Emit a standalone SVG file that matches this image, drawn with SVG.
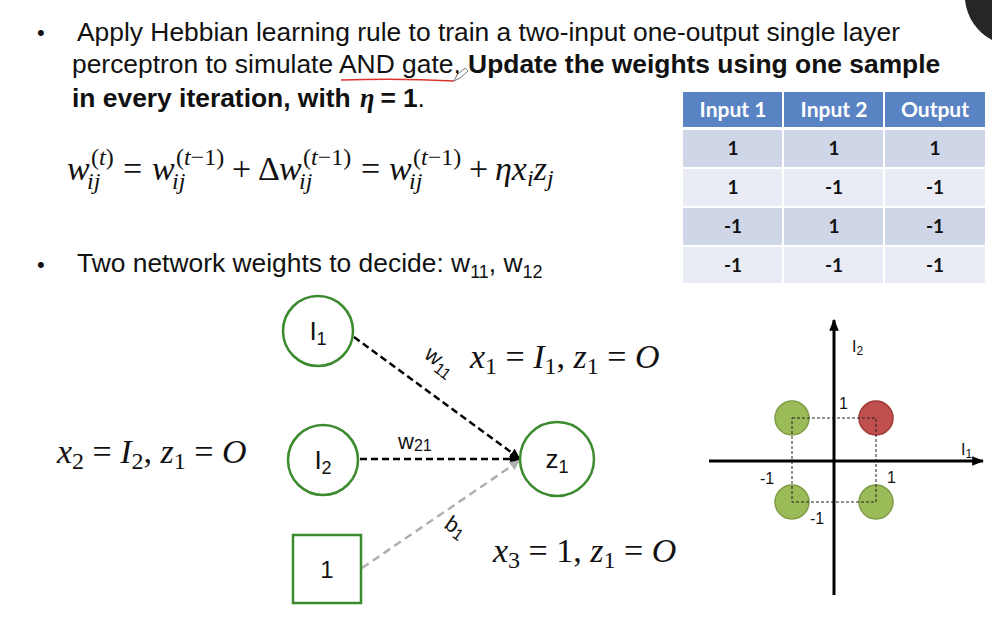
<svg xmlns="http://www.w3.org/2000/svg" width="992" height="622" viewBox="0 0 992 622">
<defs>
<marker id="ab" viewBox="0 0 10 10" refX="9" refY="5" markerWidth="4" markerHeight="4" orient="auto" markerUnits="strokeWidth"><path d="M0,0 L10,5 L0,10 z" fill="#000"/></marker>
<marker id="ag" viewBox="0 0 10 10" refX="9" refY="5" markerWidth="4" markerHeight="4" orient="auto" markerUnits="strokeWidth"><path d="M0,0 L10,5 L0,10 z" fill="#b0b0b0"/></marker>
<marker id="ax" viewBox="0 0 10 10" refX="9" refY="5" markerWidth="4" markerHeight="4" orient="auto" markerUnits="strokeWidth"><path d="M0,1 L10,5 L0,9 z" fill="#000"/></marker>
</defs>
<style>
.t{font-family:"Liberation Sans",Arial,sans-serif;font-size:26.4px;fill:#111}
.bl{font-family:"Liberation Sans",Arial,sans-serif;font-size:22px;fill:#111}
.b{font-weight:bold}
.m{font-family:"Liberation Serif","Times New Roman",serif;font-style:italic;font-size:34px;fill:#111}
.ms{font-family:"Liberation Serif","Times New Roman",serif;font-style:italic;font-size:24px;fill:#111}
.u{font-style:normal}
.node{fill:#fff;stroke:#3b8a2e;stroke-width:2.5}
.nl{font-family:"Liberation Sans",Arial,sans-serif;font-size:26px;fill:#111;text-anchor:middle}
.wl{font-family:"Liberation Sans",Arial,sans-serif;font-size:22px;fill:#111}
.hd{fill:#5a83c3}
.dk{fill:#cfd6e7}
.lt{fill:#e9ecf4}
.th{font-family:Lato,"Open Sans",sans-serif;font-weight:bold;font-size:21px;fill:#fff;text-anchor:middle}
.td{font-family:Lato,"Open Sans",sans-serif;font-weight:bold;font-size:19px;fill:#111;text-anchor:middle}
.pl{font-family:"Liberation Sans",Arial,sans-serif;font-size:16px;fill:#111}
.g{fill:#9bbb59;stroke:#7e9c46;stroke-width:1.5}
.r{fill:#c0504d;stroke:#9f3b39;stroke-width:1.5}
</style>
<rect width="992" height="622" fill="#fff"/>
<path d="M965,0 C967,18 977,32 992,40 L992,0 Z" fill="#262626"/>

<g id="text-intro">
<text class="bl" x="37" y="40">•</text>
<text class="t" x="77" y="41">Apply Hebbian learning rule to train a two-input one-output single layer</text>
<text class="t" x="72" y="73">perceptron to simulate AND gate, <tspan class="b">Update the weights using one sample</tspan></text>
<text class="t b" x="72" y="107">in every iteration, with <tspan font-family="Liberation Serif,serif" font-style="italic" dx="2">η</tspan><tspan dx="6">=</tspan><tspan dx="7">1</tspan><tspan font-weight="normal">.</tspan></text>
<path d="M341,80 Q400,78 454,81" fill="none" stroke="#d9342f" stroke-width="1.6"/>
<path d="M454,81 l3,-6 l8,-7 l3,3 l-8,7 z" fill="#fff" stroke="#777" stroke-width="1"/>
</g>

<g id="formula">
<text class="m" x="67" y="180">w</text>
<text class="ms u" x="91" y="165">(<tspan font-style="italic">t</tspan>)</text>
<text class="ms" x="87" y="189">ij</text>
<text class="m u" x="123" y="180">=</text>
<text class="m" x="152" y="180">w</text>
<text class="ms u" x="176" y="165">(<tspan font-style="italic">t</tspan>−1)</text>
<text class="ms" x="172" y="189">ij</text>
<text class="m u" x="232" y="180">+</text>
<text class="m u" x="258" y="180">Δ</text>
<text class="m" x="279" y="180">w</text>
<text class="ms u" x="303" y="165">(<tspan font-style="italic">t</tspan>−1)</text>
<text class="ms" x="299" y="189">ij</text>
<text class="m u" x="361" y="180">=</text>
<text class="m" x="389" y="180">w</text>
<text class="ms u" x="413" y="165">(<tspan font-style="italic">t</tspan>−1)</text>
<text class="ms" x="409" y="189">ij</text>
<text class="m u" x="469" y="180">+</text>
<text class="m" x="495" y="180">ηx<tspan font-size="24" dy="6">i</tspan><tspan dy="-6">z</tspan><tspan font-size="24" dy="6">j</tspan></text>
</g>

<g id="text-weights">
<text class="bl" x="37" y="272">•</text>
<text class="t" x="77" y="272">Two network weights to decide: w<tspan font-size="18" dy="6">11</tspan><tspan dy="-6">, w</tspan><tspan font-size="18" dy="6">12</tspan></text>
</g>

<g id="table">
<rect class="hd" x="683" y="92" width="99" height="35"/>
<rect class="hd" x="784" y="92" width="99" height="35"/>
<rect class="hd" x="885" y="92" width="100" height="35"/>
<rect class="dk" x="683" y="130" width="99" height="37"/>
<rect class="dk" x="784" y="130" width="99" height="37"/>
<rect class="dk" x="885" y="130" width="100" height="37"/>
<rect class="lt" x="683" y="169" width="99" height="37"/>
<rect class="lt" x="784" y="169" width="99" height="37"/>
<rect class="lt" x="885" y="169" width="100" height="37"/>
<rect class="dk" x="683" y="208" width="99" height="37"/>
<rect class="dk" x="784" y="208" width="99" height="37"/>
<rect class="dk" x="885" y="208" width="100" height="37"/>
<rect class="lt" x="683" y="247" width="99" height="36"/>
<rect class="lt" x="784" y="247" width="99" height="36"/>
<rect class="lt" x="885" y="247" width="100" height="36"/>
<text class="th" x="733" y="117">Input 1</text>
<text class="th" x="834" y="117">Input 2</text>
<text class="th" x="935" y="117">Output</text>
<text class="td" x="733" y="155">1</text><text class="td" x="834" y="155">1</text><text class="td" x="935" y="155">1</text>
<text class="td" x="733" y="194">1</text><text class="td" x="834" y="194">-1</text><text class="td" x="935" y="194">-1</text>
<text class="td" x="733" y="233">-1</text><text class="td" x="834" y="233">1</text><text class="td" x="935" y="233">-1</text>
<text class="td" x="733" y="272">-1</text><text class="td" x="834" y="272">-1</text><text class="td" x="935" y="272">-1</text>
</g>

<g id="connectors">
<line x1="354" y1="337" x2="519" y2="458" stroke="#000" stroke-width="2.5" stroke-dasharray="7 4" marker-end="url(#ab)"/>
<line x1="360" y1="459" x2="519" y2="459" stroke="#000" stroke-width="2.5" stroke-dasharray="7 4" marker-end="url(#ab)"/>
<line x1="362" y1="568" x2="519" y2="461" stroke="#b0b0b0" stroke-width="2.5" stroke-dasharray="8 5" marker-end="url(#ag)"/>
<text class="wl" x="423" y="357" transform="rotate(37 423 357)">w<tspan font-size="16" dy="5">11</tspan></text>
<text class="wl" x="398" y="449">w<tspan font-size="16" dy="2">21</tspan></text>
<text class="wl" x="443" y="527" transform="rotate(35 443 527)">b<tspan font-size="16" dy="3">1</tspan></text>
</g>

<g id="node-I1">
<circle class="node" cx="318" cy="331" r="35"/>
<text class="nl" x="318" y="340">I<tspan font-size="18" dy="5">1</tspan></text>
</g>
<g id="node-I2">
<circle class="node" cx="323" cy="460" r="35"/>
<text class="nl" x="323" y="469">I<tspan font-size="18" dy="5">2</tspan></text>
</g>
<g id="node-z1">
<circle class="node" cx="557" cy="459" r="37"/>
<text class="nl" x="557" y="468">z<tspan font-size="18" dy="5">1</tspan></text>
</g>
<g id="node-bias">
<rect class="node" x="293" y="535" width="68" height="68"/>
<text class="nl" x="327" y="578" style="font-size:24px">1</text>
</g>

<g id="math-labels">
<text class="m" x="470" y="368">x<tspan class="u" font-size="24" dy="6">1</tspan><tspan class="u" dy="-6"> = </tspan>I<tspan class="u" font-size="24" dy="6">1</tspan><tspan class="u" dy="-6">, </tspan>z<tspan class="u" font-size="24" dy="6">1</tspan><tspan class="u" dy="-6"> = </tspan>O</text>
<text class="m" x="57" y="463">x<tspan class="u" font-size="24" dy="6">2</tspan><tspan class="u" dy="-6"> = </tspan>I<tspan class="u" font-size="24" dy="6">2</tspan><tspan class="u" dy="-6">, </tspan>z<tspan class="u" font-size="24" dy="6">1</tspan><tspan class="u" dy="-6"> = </tspan>O</text>
<text class="m" x="493" y="562">x<tspan class="u" font-size="24" dy="6">3</tspan><tspan class="u" dy="-6"> = 1, </tspan>z<tspan class="u" font-size="24" dy="6">1</tspan><tspan class="u" dy="-6"> = </tspan>O</text>
</g>

<g id="plot">
<circle class="g" cx="792" cy="418" r="17"/>
<circle class="r" cx="876" cy="418" r="17"/>
<circle class="g" cx="792" cy="502" r="17"/>
<circle class="g" cx="876" cy="502" r="17"/>
<rect x="792" y="418" width="84" height="84" fill="none" stroke="#222" stroke-width="1" stroke-dasharray="3 2"/>
<line x1="709" y1="461" x2="983" y2="461" stroke="#000" stroke-width="3" marker-end="url(#ax)"/>
<line x1="834" y1="595" x2="834" y2="320" stroke="#000" stroke-width="3" marker-end="url(#ax)"/>
<text class="pl" x="852" y="352">I<tspan font-size="12" dy="3">2</tspan></text>
<text class="pl" x="839" y="409">1</text>
<text class="pl" x="961" y="455">I<tspan font-size="12" dy="3">1</tspan></text>
<text class="pl" x="760" y="484">-1</text>
<text class="pl" x="887" y="483">1</text>
<text class="pl" x="810" y="524">-1</text>
</g>
</svg>
